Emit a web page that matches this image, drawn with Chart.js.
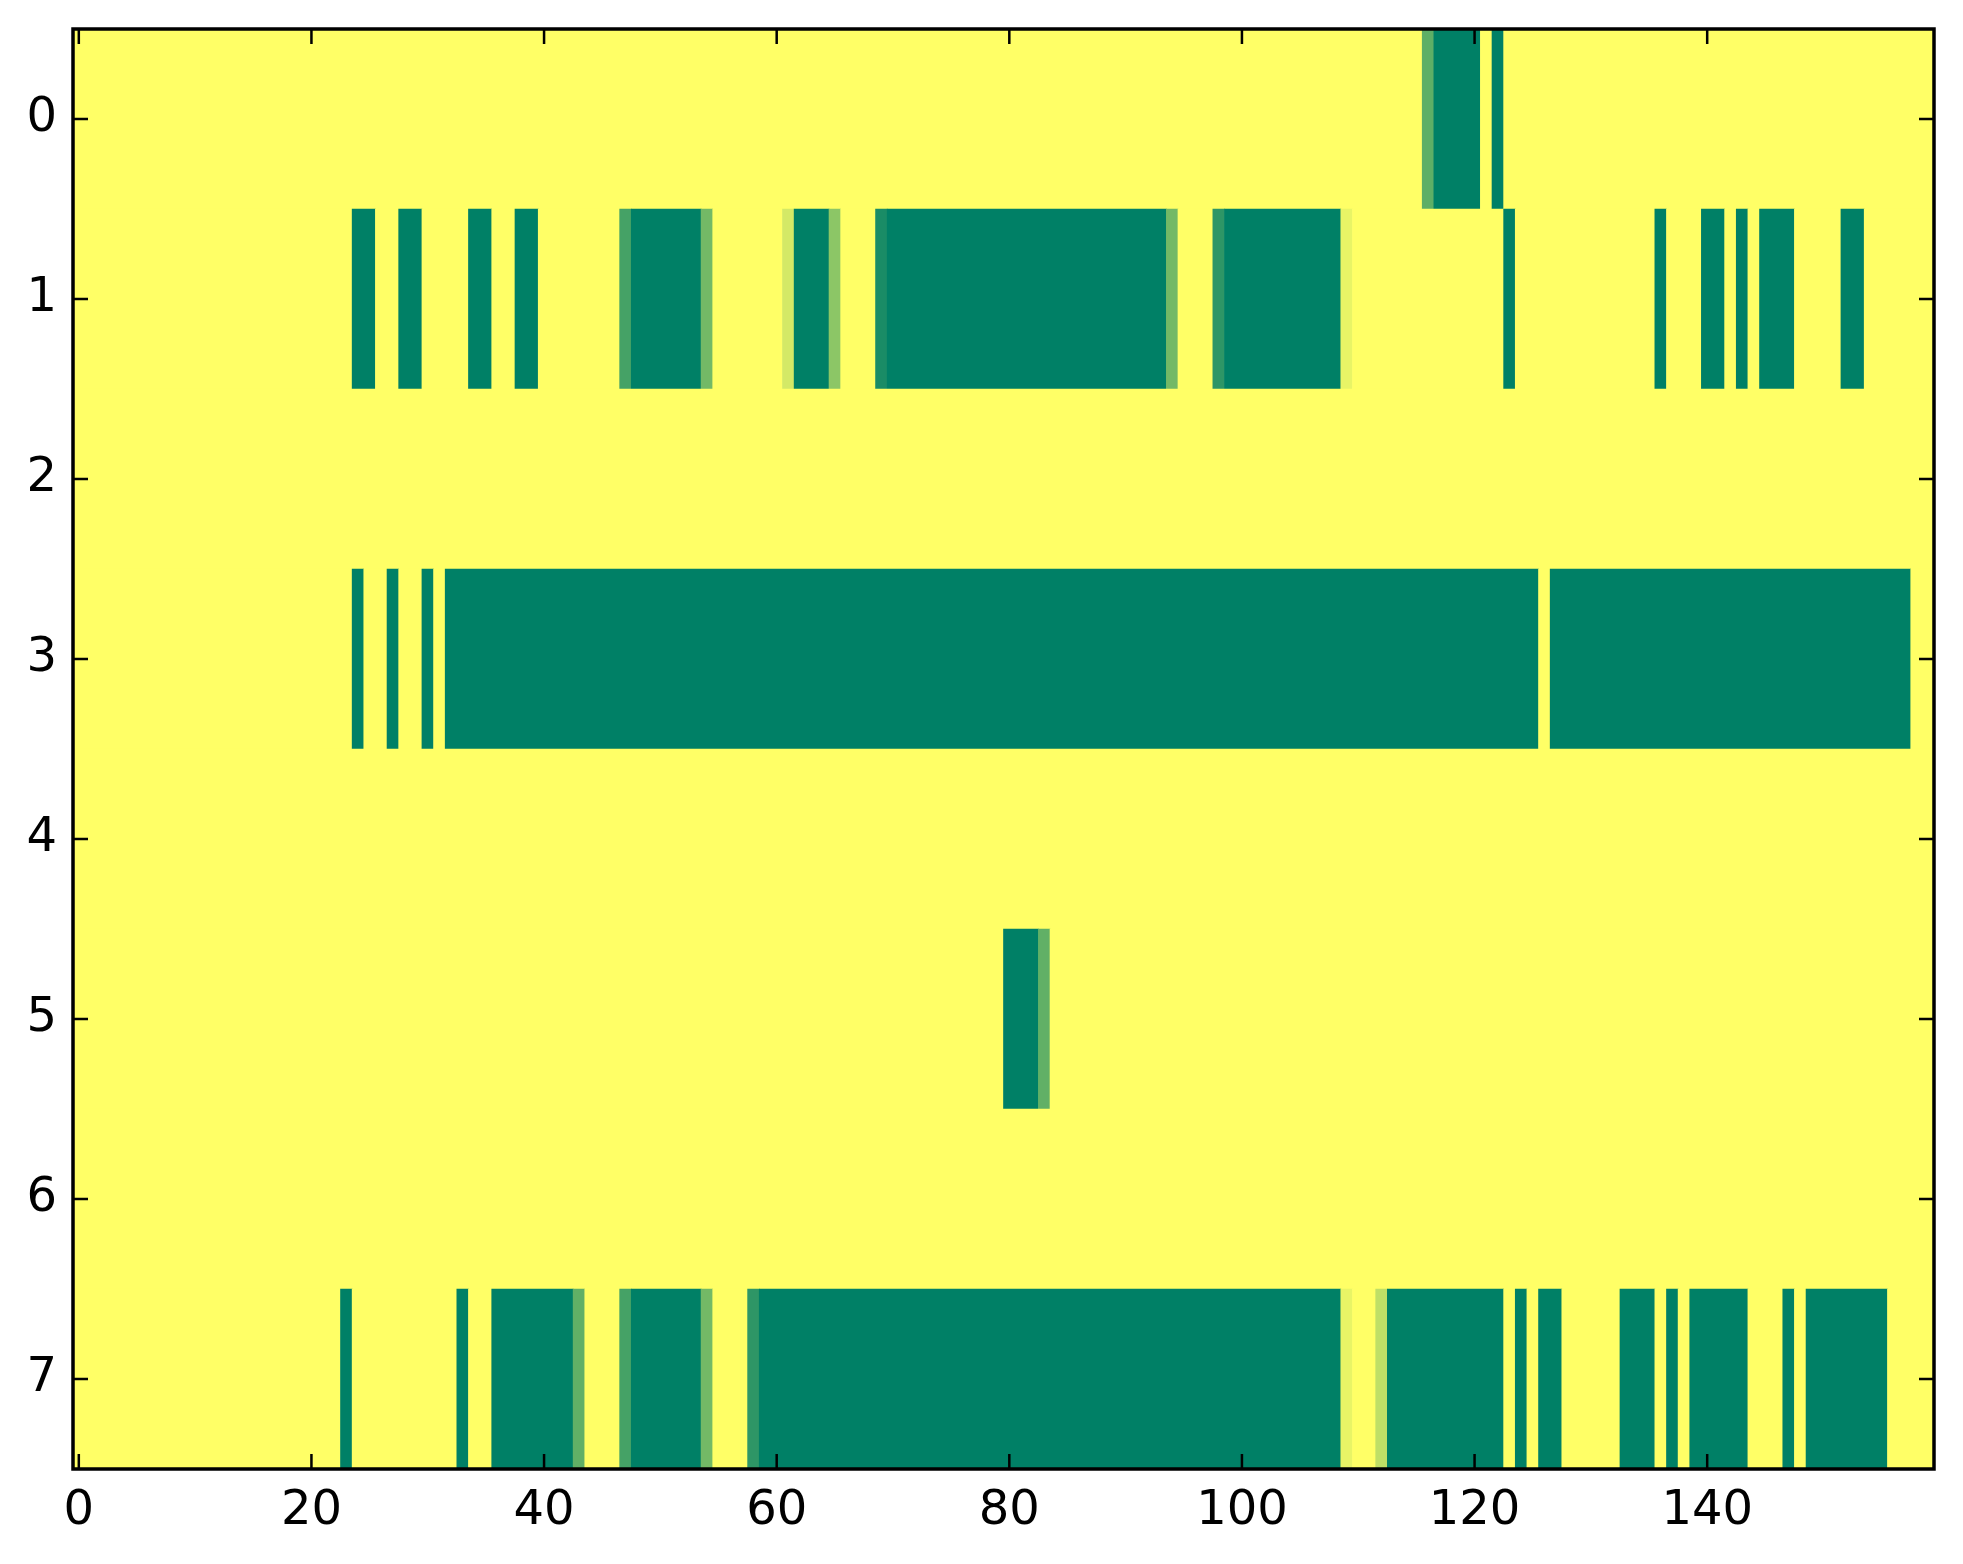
<!DOCTYPE html>
<html>
<head>
<meta charset="utf-8">
<script src="https://cdn.jsdelivr.net/npm/chart.js@4.4.0/dist/chart.umd.min.js"></script>
<style>
  html, body { margin: 0; padding: 0; background: #fff; }
  #wrap { width: 1963px; height: 1564px; }
</style>
</head>
<body>
<div id="wrap"><canvas id="myChart" width="1963" height="1564"></canvas></div>
<script>
var rowLabels = ["0", "1", "2", "3", "4", "5", "6", "7"];
var columnCount = 160;
var xTicks = [0, 20, 40, 60, 80, 100, 120, 140];

// cells below the top value (1), as [first column, last column, value]
var row0 = [[116, 116, 0.37], [117, 120, 0], [122, 122, 0]];
var row1 = [
  [24, 25, 0], [28, 29, 0], [34, 35, 0], [38, 39, 0],
  [47, 47, 0.27], [48, 53, 0], [54, 54, 0.45],
  [61, 61, 0.83], [62, 64, 0], [65, 65, 0.55],
  [69, 69, 0.1], [70, 93, 0], [94, 94, 0.45],
  [98, 98, 0.18], [99, 108, 0], [109, 109, 0.91],
  [123, 123, 0], [136, 136, 0], [140, 141, 0], [143, 143, 0],
  [145, 147, 0], [152, 153, 0],
];
var row2 = [];
var row3 = [[24, 24, 0], [27, 27, 0], [30, 30, 0], [32, 125, 0], [127, 157, 0]];
var row4 = [];
var row5 = [[80, 82, 0], [83, 83, 0.38]];
var row6 = [];
var row7 = [
  [23, 23, 0], [33, 33, 0], [36, 42, 0], [43, 43, 0.38],
  [47, 47, 0.27], [48, 53, 0], [54, 54, 0.45],
  [58, 58, 0.18], [59, 108, 0], [109, 109, 0.91],
  [112, 112, 0.75], [113, 122, 0], [124, 124, 0], [126, 127, 0],
  [133, 135, 0], [137, 137, 0], [139, 143, 0], [147, 147, 0], [149, 155, 0],
];
var rows = [row0, row1, row2, row3, row4, row5, row6, row7];

// matplotlib "summer" colormap
function summer(v) {
  return "rgb(" + Math.round(255 * v) + "," + Math.round(255 * (0.5 + v / 2)) + ",102)";
}

// fill every row with 1, put the runs in, then join equal neighbours into one bar
var cells = [];
rows.forEach(function (runs, r) {
  var values = new Array(columnCount).fill(1);
  runs.forEach(function (run) {
    for (var c = run[0]; c <= run[1]; c++) values[c] = run[2];
  });
  var start = 0;
  for (var c = 1; c <= columnCount; c++) {
    if (c === columnCount || values[c] !== values[start]) {
      cells.push({ y: rowLabels[r], x: [start - 0.5, c - 0.5], v: values[start] });
      start = c;
    }
  }
});

// black box with ticks pointing inwards on all four sides
var framePlugin = {
  id: "frame",
  afterDatasetsDraw: function (chart) {
    var ctx = chart.ctx;
    var a = chart.chartArea;
    var xs = chart.scales.x;
    var ys = chart.scales.y;
    ctx.save();
    ctx.strokeStyle = "#000";
    ctx.lineWidth = 2.5;
    ctx.beginPath();
    xs.ticks.forEach(function (t) {
      var px = xs.getPixelForValue(t.value);
      ctx.moveTo(px, a.bottom);
      ctx.lineTo(px, a.bottom - 15);
      ctx.moveTo(px, a.top);
      ctx.lineTo(px, a.top + 15);
    });
    ys.ticks.forEach(function (t, i) {
      var py = ys.getPixelForTick(i);
      ctx.moveTo(a.left, py);
      ctx.lineTo(a.left + 15, py);
      ctx.moveTo(a.right, py);
      ctx.lineTo(a.right - 15, py);
    });
    ctx.stroke();
    ctx.lineWidth = 3.5;
    ctx.strokeRect(a.left, a.top, a.right - a.left, a.bottom - a.top);
    ctx.restore();
  },
};

var tickFont = { family: "DejaVu Sans", size: 48 };

var ctx = document.getElementById("myChart").getContext("2d");
var myChart = new Chart(ctx, {
  type: "bar",
  data: {
    datasets: [
      {
        data: cells,
        backgroundColor: function (c) {
          return c.raw ? summer(c.raw.v) : "#ffff66";
        },
        borderWidth: 0,
        barPercentage: 1,
        categoryPercentage: 1,
      },
    ],
  },
  options: {
    responsive: false,
    animation: false,
    indexAxis: "y",
    layout: { padding: { top: 29, right: 29, left: 0, bottom: 0 } },
    plugins: {
      legend: { display: false },
      tooltip: { enabled: false },
    },
    scales: {
      x: {
        type: "linear",
        min: -0.5,
        max: columnCount - 0.5,
        grid: { display: false, drawTicks: false },
        border: { display: false },
        afterBuildTicks: function (s) {
          s.ticks = xTicks.map(function (v) { return { value: v }; });
        },
        afterFit: function (s) {
          s.height = 95;
          s.paddingLeft = 0;
          s.paddingRight = 0;
        },
        ticks: { color: "#000", font: tickFont, padding: 14, maxRotation: 0, autoSkip: false },
      },
      y: {
        type: "category",
        labels: rowLabels,
        offset: true,
        grid: { display: false, drawTicks: false },
        border: { display: false },
        afterFit: function (s) {
          s.width = 73;
          s.paddingTop = 0;
          s.paddingBottom = 0;
        },
        ticks: { color: "#000", font: tickFont, padding: 16 },
      },
    },
  },
  plugins: [framePlugin],
});
</script>
</body>
</html>
